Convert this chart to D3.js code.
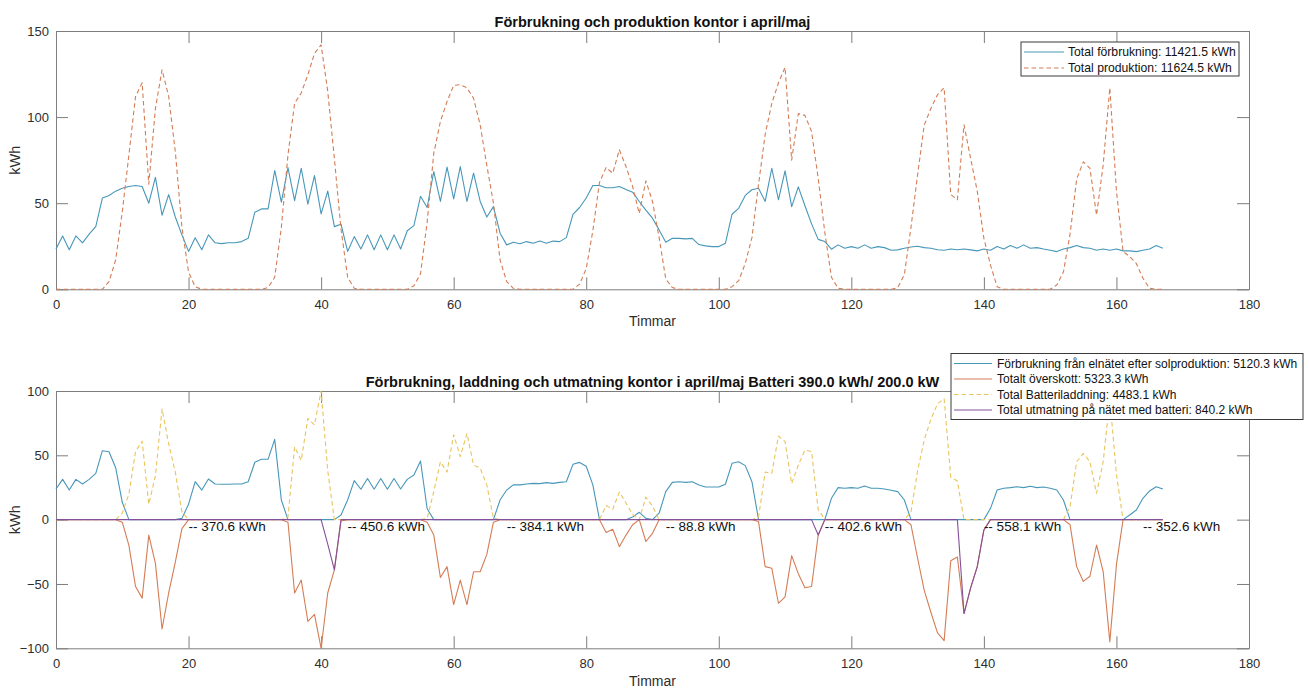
<!DOCTYPE html>
<html>
<head>
<meta charset="utf-8">
<script src="https://cdn.jsdelivr.net/npm/d3@7"></script>
<style>
  html, body { margin: 0; padding: 0; background: #fff; }
  svg { display: block; font-family: "Liberation Sans", Arial, Helvetica, sans-serif; }
</style>
</head>
<body>
<svg id="chart" width="1309" height="688"></svg>
<script>
// ---------- DATA ----------
const hours = d3.range(168);
const xTicks = [0, 20, 40, 60, 80, 100, 120, 140, 160, 180];
const yTicksTop = [0, 50, 100, 150];
const yTicksBottom = [-100, -50, 0, 50, 100];

const titleTop = "Förbrukning och produktion kontor i april/maj";
const titleBottom = "Förbrukning, laddning och utmatning kontor i april/maj Batteri 390.0 kWh/ 200.0 kW";
const xLabel = "Timmar";
const yLabel = "kWh";

const legendTop = ["Total förbrukning: 11421.5 kWh", "Total produktion: 11624.5 kWh"];
const legendBottom = [
  "Förbrukning från elnätet efter solproduktion: 5120.3 kWh",
  "Totalt överskott: 5323.3 kWh",
  "Total Batteriladdning: 4483.1 kWh",
  "Total utmatning på nätet med batteri: 840.2 kWh"
];

// Top: total consumption (kWh per hour)
const consumption = [
  23.4,31,23,31,27,32,36.4,53,54.5,57,58.7,59.7,60.3,59.7,50,65,43,55,42,31.6,
  22,30,23,31.6,27,26.5,27,27,27.7,29.6,44.8,46.7,46.7,69,50.6,70.7,51.5,70.3,49.4,66,
  43.8,57,36.4,37.8,22,30.6,23.4,31.6,23,31.6,23,31.6,23.4,34,37,54,47.5,68.4,51,71,
  52.5,71.3,51,67.4,51,42,48,32.6,25.8,27.3,26.4,27.7,26.7,28,26.7,28,27.7,30,43.5,47.5,
  53,60.3,60.3,59,59,59.7,58,56.4,51,46,41.3,34.5,27.3,29.6,29.6,29.3,29.6,26,25.2,24.8,
  24.8,26.7,43.6,47,54.5,57.8,58.7,51,70.3,52,68.8,48,59.5,48.5,38,29,27.7,23.3,25.8,23.8,
  24.8,23.8,25.8,23.8,24.8,24.2,22.7,22.9,23.8,24.6,25,24.2,23.8,23,22.7,23.4,23,23.4,22.9,22.3,
  23.4,22.7,24.8,23.4,25.4,23.8,25.8,23.8,24.2,23.4,22.7,21.9,23.4,24.2,25.4,24.2,23.8,22.7,23.4,22.7,
  23.4,22.3,22.3,21.9,22.7,23.4,25.4,23.8
];
// Top: total solar production
const production = [
  0,0,0,0,0,0,0,0,4.5,17,45,78,112,120,61,105,127.5,112,80,36,
  10,1.5,0,0,0,0,0,0,0,0,0,0,1,7,36,78,108,114,124.6,137,
  142,115,76,35,7,0.6,0,0,0,0,0,0,0,0,2,9,39,79,97.5,109,
  118.4,118.8,117,111,95.5,72,50,17,4.5,0.6,0,0,0,0,0,0,0,0,0,3,
  12,34,62,70.7,67.4,81,71.3,59.7,44,63,51,30,6,1,0,0,0,0,0,0,
  0,0,1.5,5,15,30,61,90,108,119.8,128.9,75,102,101,91.6,64.5,33,7,0.6,0,
  0,0,0,0,0,0,0,1,8.5,36,66.5,95.5,105,113,117,55,52,95.5,76,57,
  29.6,14,1.5,0,0,0,0,0,0,0,0,2.5,10,32,64,74,70.3,43,72.3,117,
  57,22,19,15,6.4,0.6,0,0
];
// Bottom: consumption from the grid after solar production
const gridUse = [
  23.8,31.3,23,31.3,27.7,31.3,36,53.6,52.8,40.4,13.5,0,0,0,0,0,0,0,0,1,
  12,29.5,23,31.6,27.7,27.5,27.5,27.7,27.7,29.5,44.6,47,47,62.4,15.3,0,0,0,0,0,
  0,0,0,3.6,15.3,30.3,23.6,32,23.6,32,23.6,32,23.8,31.3,34.7,45.6,8.5,0,0,0,
  0,0,0,0,0,0,0,15.3,23,27,27,27.7,28.2,28,28.8,28.2,29,29.5,43,44.5,
  41.5,27,0,0,0,0,0,2,5.7,1,0,5,21.8,29,29.5,29,29.5,27,25.4,25.4,
  25.4,27.5,43.8,45,42,29.5,0,0,0,0,0,0,0,0,0,0,0,16.6,24.9,24.4,
  24.9,24.4,26.2,24.4,24.4,23.8,22.8,21.8,15.3,0,0,0,0,0,0,0,0,0,0,0,
  0,8.8,23,24.4,24.9,25.6,24.9,25.9,24.9,25.4,24.4,23,15.3,0,0,0,0,0,0,0,
  0,0,3.6,7.5,16.6,22.3,25.6,23.8
];
// Bottom: total surplus (negative)
const surplus = [
  0,0,0,0,0,0,0,0,0,0,-2,-20,-52,-61,-12,-34,-85,-57,-33,-7,
  0,0,0,0,0,0,0,0,0,0,0,0,0,0,0,-2,-57,-47,-79,-73.6,
  -100,-57,-39,-1,0,0,0,0,0,0,0,0,0,0,0,0,-2,-12,-45,-36.5,
  -66,-47,-66,-40.5,-40.5,-27,-2,0,0,0,0,0,0,0,0,0,0,0,0,0,
  0,0,0,-10,-7.5,-21,-12,-4,0,-17,-10.6,0,0,0,0,0,0,0,0,0,
  0,0,0,0,0,0,-1.5,-36.5,-37.8,-65,-60,-28,-42,-53,-52,-12,0,0,0,0,
  0,0,0,0,0,0,0,0,0,-4,-30,-55,-72,-88,-94,-32,-29,-73,-53,-36.5,
  -8,0,0,0,0,0,0,0,0,0,0,0,0,-4,-36.5,-48,-44,-19.7,-40.4,-95,
  -35,0,0,0,0,0,0,0
];
// Bottom: battery charging
const batteryCharge = [
  0,0,0,0,0,0,0,0,0,0,5,20,53,61,12,34,86,59,37,6,
  0,0,0,0,0,0,0,0,0,0,0,0,0,0,0,2,56.7,46,78.8,73.6,
  100,38,0,0,0,0,0,0,0,0,0,0,0,0,0,0,1,21.8,45,37,
  66,49,67,42.5,40,27,1,0,0,0,0,0,0,0,0,0,0,0,0,0,
  0,0,0,11,8,21.5,13,4,0,17.5,10.5,0,0,0,0,0,0,0,0,0,
  0,0,0,0,0,0,2,37,36,65,60.6,28,42.5,54,53,8,0,0,0,0,
  0,0,0,0,0,0,0,0,0,6,38,62,78,90,94,33,30,0,0,0,
  0,0,0,0,0,0,0,0,0,0,0,0,0,10,45,51.5,45,20.5,45,94,
  35,0,0,0,0,0,0,0
];
// Bottom: export to the grid with battery (negative)
const gridExport = [
  0,0,0,0,0,0,0,0,0,0,0,0,0,0,0,0,0,0,0,0,
  0,0,0,0,0,0,0,0,0,0,0,0,0,0,0,0,0,0,0,0,
  0,-19,-39,0,0,0,0,0,0,0,0,0,0,0,0,0,0,0,0,0,
  0,0,0,0,0,0,0,0,0,0,0,0,0,0,0,0,0,0,0,0,
  0,0,0,0,0,0,0,0,0,0,0,0,0,0,0,0,0,0,0,0,
  0,0,0,0,0,0,0,0,0,0,0,0,0,0,0,-12,0,0,0,0,
  0,0,0,0,0,0,0,0,0,0,0,0,0,0,0,0,0,-73,-53,-36.5,
  -8,0,0,0,0,0,0,0,0,0,0,0,0,0,0,0,0,0,0,0,
  0,0,0,0,0,0,0,0
];
// Daily export annotations
const annotHours = [20, 44, 68, 92, 116, 140, 164];
const annotLabels = ["-- 370.6 kWh", "-- 450.6 kWh", "-- 384.1 kWh", "-- 88.8 kWh", "-- 402.6 kWh", "-- 558.1 kWh", "-- 352.6 kWh"];

// ---------- STYLE ----------
const C_BLUE = "#4797b9", C_ORANGE = "#d47d55", C_YELLOW = "#e9c45c", C_PURPLE = "#85509a";
const AXIS_COLOR = "#7d7d7d", TEXT_COLOR = "#2e2e2e";
const FONT = 13;

const svg = d3.select("#chart");
const L = 56, R = 1249;

function panel(y0, y1, yDomain, yTicks, title, titleBaseline, xlabBaseline) {
  const x = d3.scaleLinear().domain([0, 180]).range([L, R]);
  const y = d3.scaleLinear().domain(yDomain).range([y1, y0]);
  const g = svg.append("g");

  const axB = g.append("g").attr("transform", `translate(0,${y1})`)
    .call(d3.axisBottom(x).tickValues(xTicks).tickSizeInner(-12).tickSizeOuter(0).tickPadding(10.5));
  const axT = g.append("g").attr("transform", `translate(0,${y0})`)
    .call(d3.axisTop(x).tickValues(xTicks).tickSizeInner(-12).tickSizeOuter(0).tickFormat(""));
  const axL = g.append("g").attr("transform", `translate(${L},0)`)
    .call(d3.axisLeft(y).tickValues(yTicks).tickSizeInner(-12).tickSizeOuter(0).tickPadding(7));
  const axR = g.append("g").attr("transform", `translate(${R},0)`)
    .call(d3.axisRight(y).tickValues(yTicks).tickSizeInner(-12).tickSizeOuter(0).tickFormat(""));
  [axB, axT, axL, axR].forEach(a => {
    a.selectAll("path.domain").attr("stroke", AXIS_COLOR).attr("stroke-width", 1);
    a.selectAll(".tick line").attr("stroke", AXIS_COLOR).attr("stroke-width", 1);
    a.selectAll(".tick text").attr("fill", TEXT_COLOR).style("font-size", FONT + "px")
      .style("font-family", '"Liberation Sans", Arial, sans-serif');
  });

  g.append("text").attr("x", (L + R) / 2).attr("y", titleBaseline).attr("text-anchor", "middle")
    .attr("font-weight", "bold").attr("font-size", 14.5).attr("fill", "#111").text(title);
  g.append("text").attr("x", (L + R) / 2).attr("y", xlabBaseline).attr("text-anchor", "middle")
    .attr("font-size", 14).attr("fill", TEXT_COLOR).text(xLabel);
  g.append("text").attr("transform", `translate(20,${(y0 + y1) / 2}) rotate(-90)`)
    .attr("text-anchor", "middle").attr("font-size", 14.5).attr("fill", TEXT_COLOR).text(yLabel);
  return { x, y, g };
}

function drawLine(p, values, color, dash) {
  const line = d3.line().x((d, i) => p.x(hours[i])).y(d => p.y(d));
  p.g.append("path").datum(values).attr("d", line).attr("fill", "none")
    .attr("stroke", color).attr("stroke-width", 1.1)
    .attr("stroke-linejoin", "round")
    .attr("stroke-dasharray", dash ? "4.5,3" : null);
}

// ---------- TOP PANEL ----------
const topP = panel(31, 289.3, [0, 150], yTicksTop, titleTop, 26.5, 326);
drawLine(topP, consumption, C_BLUE, false);
drawLine(topP, production, C_ORANGE, true);
{
  const g = topP.g;
  g.append("rect").attr("x", 1021).attr("y", 42).attr("width", 218).attr("height", 34)
    .attr("fill", "#fff").attr("stroke", "#3a3a3a").attr("stroke-width", 1);
  const rows = [52, 68];
  const cols = [C_BLUE, C_ORANGE];
  const dsh = [false, true];
  legendTop.forEach((t, i) => {
    g.append("line").attr("x1", 1024).attr("x2", 1064).attr("y1", rows[i]).attr("y2", rows[i])
      .attr("stroke", cols[i]).attr("stroke-width", 1.1).attr("stroke-dasharray", dsh[i] ? "4.5,3" : null);
    g.append("text").attr("x", 1068).attr("y", rows[i]).attr("dy", "0.35em").attr("font-size", 12.2)
      .attr("fill", "#111").text(t);
  });
}

// ---------- BOTTOM PANEL ----------
const botP = panel(391, 648.3, [-100, 100], yTicksBottom, titleBottom, 386.5, 686);
drawLine(botP, gridUse, C_BLUE, false);
drawLine(botP, surplus, C_ORANGE, false);
drawLine(botP, batteryCharge, C_YELLOW, true);
drawLine(botP, gridExport, C_PURPLE, false);
annotHours.forEach((h, i) => {
  botP.g.append("text").attr("x", botP.x(h)).attr("y", botP.y(0) + 7).attr("dy", "0.35em")
    .attr("font-size", 13.5).attr("fill", "#111").text(annotLabels[i]);
});
{
  const g = botP.g;
  g.append("rect").attr("x", 951).attr("y", 353.5).attr("width", 352).attr("height", 66)
    .attr("fill", "#fff").attr("stroke", "#3a3a3a").attr("stroke-width", 1);
  const rows = [363.5, 379, 394.5, 410];
  const cols = [C_BLUE, C_ORANGE, C_YELLOW, C_PURPLE];
  const dsh = [false, false, true, false];
  legendBottom.forEach((t, i) => {
    g.append("line").attr("x1", 954).attr("x2", 992).attr("y1", rows[i]).attr("y2", rows[i])
      .attr("stroke", cols[i]).attr("stroke-width", 1.1).attr("stroke-dasharray", dsh[i] ? "4.5,3" : null);
    g.append("text").attr("x", 997).attr("y", rows[i]).attr("dy", "0.35em").attr("font-size", 12)
      .attr("fill", "#111").text(t);
  });
}
</script>
</body>
</html>
